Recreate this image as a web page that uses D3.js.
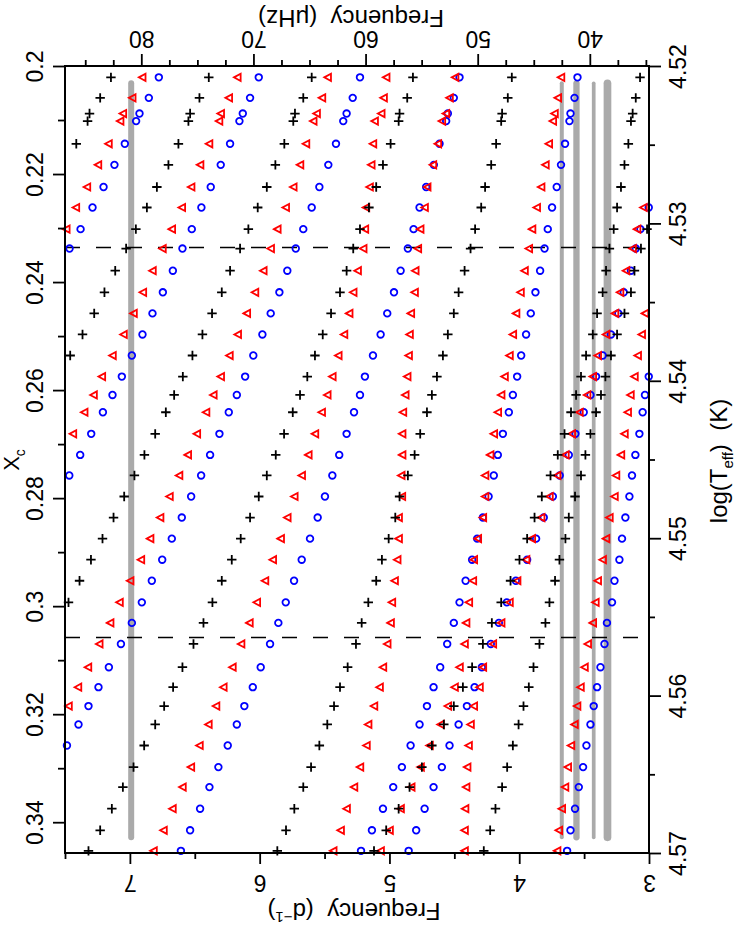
<!DOCTYPE html>
<html>
<head>
<meta charset="utf-8">
<script src="https://cdn.jsdelivr.net/npm/d3@7"></script>
<style>
  body { margin: 0; background: #fff; }
  svg { display: block; font-family: "Liberation Sans", Arial, sans-serif; }
</style>
</head>
<body>
<svg id="chart" width="736" height="931"></svg>
<script>
// central hydrogen fraction of each model (one row of symbols per model)
const xcRows = [
  0.2021, 0.2059, 0.2088, 0.2102, 0.2144, 0.2183, 0.2224, 0.2262, 0.2302, 0.2338,
  0.2379, 0.2419, 0.2458, 0.2497, 0.2536, 0.2575, 0.2609, 0.2641, 0.2681, 0.2720,
  0.2758, 0.2797, 0.2836, 0.2875, 0.2914, 0.2953, 0.2993, 0.3031, 0.3070, 0.3113,
  0.3150, 0.3185, 0.3219, 0.3258, 0.3298, 0.3335, 0.3375, 0.3415, 0.3453
]

// model frequencies (d^-1), one list per row
const plusFreq = [
  [7.146, 6.392, 5.599, 4.819, 4.057, 3.069],
  [7.229, 6.464, 5.664, 4.863, 4.088, 3.102],
  [7.311, 6.536, 5.728, 4.922, 4.132, 3.126],
  [7.326, 6.549, 5.741, 4.929, 4.139, 3.139],
  [7.413, 6.626, 5.810, 4.991, 4.178, 3.159],
  [6.703, 5.879, 5.050, 4.216, 3.189],
  [6.792, 5.945, 5.102, 4.263, 3.216],
  [6.869, 6.015, 5.158, 4.293, 3.246],
  [6.954, 6.087, 5.227, 4.340, 3.272, 3.015],
  [7.029, 6.151, 5.279, 4.375, 3.305, 3.062],
  [7.113, 6.228, 5.330, 4.421, 3.331, 3.112],
  [7.196, 6.292, 5.381, 4.467, 3.357, 3.139],
  [7.275, 6.367, 5.450, 4.504, 3.400, 3.189],
  [7.365, 6.441, 5.514, 4.550, 3.433, 3.246],
  [7.460, 6.518, 5.574, 4.588, 3.485, 3.293],
  [6.592, 5.633, 4.634, 3.524, 3.336],
  [6.659, 5.689, 4.673, 3.562, 3.370],
  [6.723, 5.745, 4.711, 3.601, 3.408],
  [6.805, 5.812, 4.763, 3.651, 3.451],
  [6.888, 5.876, 4.806, 3.703, 3.490],
  [6.965, 5.945, 4.858, 3.759, 3.524],
  [7.044, 6.007, 4.922, 3.826, 3.570],
  [7.126, 6.074, 4.955, 3.882, 3.618],
  [7.211, 6.146, 5.006, 3.939, 3.644],
  [7.300, 6.215, 5.058, 3.998, 3.690],
  [7.388, 6.292, 5.102, 4.067, 3.724],
  [7.473, 6.364, 5.163, 4.139, 3.767],
  [6.433, 5.214, 4.211, 3.798],
  [6.510, 5.258, 4.280, 3.844],
  [6.595, 5.322, 4.363, 3.890],
  [6.667, 5.381, 4.434, 3.926],
  [6.736, 5.427, 4.504, 3.967],
  [6.805, 5.479, 4.581, 4.005],
  [6.890, 5.540, 4.673, 4.049],
  [6.972, 5.604, 4.750, 4.093],
  [7.054, 5.664, 4.845, 4.132],
  [7.139, 5.733, 4.929, 4.183],
  [7.229, 5.797, 5.025, 4.224],
  [7.319, 5.864, 5.119, 4.273]
]

const triFreq = [
  [6.905, 6.172, 5.476, 5.025, 4.494, 3.678],
  [6.982, 6.238, 5.520, 5.045, 4.537, 3.703],
  [7.054, 6.300, 5.561, 5.063, 4.565, 3.728],
  [7.075, 6.313, 5.587, 5.114, 4.596, 3.741],
  [7.165, 6.390, 5.643, 5.127, 4.627, 3.772],
  [7.246, 6.459, 5.689, 5.140, 4.665, 3.798],
  [7.331, 6.528, 5.741, 5.153, 4.709, 3.831],
  [7.416, 6.600, 5.799, 5.181, 4.729, 3.865, 3.043],
  [7.490, 6.677, 5.864, 5.189, 4.763, 3.901, 3.092],
  [6.749, 5.915, 5.202, 4.781, 3.926, 3.126],
  [6.826, 5.972, 5.245, 4.801, 3.959, 3.177],
  [6.900, 6.036, 5.279, 4.806, 3.990, 3.223],
  [6.972, 6.099, 5.310, 4.835, 4.024, 3.262, 3.031],
  [7.049, 6.169, 5.350, 4.845, 4.049, 3.331, 3.056],
  [7.134, 6.233, 5.394, 4.852, 4.075, 3.395, 3.087],
  [7.216, 6.300, 5.440, 4.863, 4.113, 3.433, 3.112],
  [7.280, 6.357, 5.479, 4.878, 4.139, 3.477, 3.143],
  [7.352, 6.413, 5.522, 4.896, 4.165, 3.536, 3.164],
  [7.439, 6.484, 5.574, 4.902, 4.196, 3.595, 3.189],
  [6.554, 5.625, 4.902, 4.224, 3.644, 3.216],
  [6.621, 5.676, 4.909, 4.263, 3.708, 3.254],
  [6.695, 5.733, 4.904, 4.263, 3.767, 3.266],
  [6.767, 5.787, 4.929, 4.280, 3.831, 3.305],
  [6.844, 5.838, 4.929, 4.319, 3.903, 3.331],
  [6.915, 5.899, 4.940, 4.350, 3.947, 3.357],
  [6.998, 5.959, 4.960, 4.357, 4.016, 3.395],
  [7.080, 6.022, 4.981, 4.388, 4.075, 3.413],
  [7.152, 6.079, 4.991, 4.409, 4.139, 3.433],
  [7.236, 6.143, 5.017, 4.421, 4.203, 3.472],
  [7.323, 6.210, 5.050, 4.460, 4.280, 3.497],
  [7.400, 6.280, 5.076, 4.498, 4.306, 3.528],
  [7.473, 6.336, 5.119, 4.550, 4.350, 3.554],
  [6.395, 5.164, 4.606, 4.375, 3.574],
  [6.464, 5.177, 4.691, 4.390, 3.601],
  [6.530, 5.227, 4.760, 4.401, 3.626],
  [6.595, 5.273, 4.832, 4.409, 3.647],
  [6.672, 5.330, 4.914, 4.417, 3.672],
  [6.741, 5.376, 4.999, 4.421, 3.695],
  [6.818, 5.433, 5.068, 4.421, 3.708]
]

const circFreq = [
  [6.777, 6.007, 5.227, 4.460, 3.551],
  [6.854, 6.074, 5.283, 4.504, 3.574],
  [6.926, 6.130, 5.330, 4.550, 3.605],
  [6.952, 6.156, 5.356, 4.563, 3.613],
  [7.039, 6.228, 5.412, 4.614, 3.647],
  [7.119, 6.300, 5.471, 4.658, 3.678],
  [7.203, 6.377, 5.540, 4.717, 3.711],
  [7.288, 6.449, 5.599, 4.768, 3.747, 3.002],
  [7.380, 6.523, 5.664, 4.814, 3.780, 3.066],
  [7.465, 6.595, 5.722, 4.858, 3.805, 3.102],
  [6.669, 5.787, 4.914, 3.839, 3.139],
  [6.746, 5.848, 4.965, 3.875, 3.195],
  [6.826, 5.915, 5.017, 3.911, 3.236],
  [6.903, 5.979, 5.068, 3.947, 3.293],
  [6.985, 6.049, 5.127, 3.985, 3.357],
  [7.062, 6.112, 5.189, 4.016, 3.408, 3.002],
  [7.134, 6.176, 5.227, 4.049, 3.451, 3.031],
  [7.208, 6.238, 5.273, 4.080, 3.503, 3.049],
  [7.298, 6.310, 5.330, 4.126, 3.567, 3.074],
  [7.383, 6.382, 5.387, 4.165, 3.618, 3.105],
  [7.467, 6.451, 5.440, 4.196, 3.688, 3.131],
  [6.528, 5.497, 4.236, 3.741, 3.151],
  [6.600, 5.553, 4.280, 3.811, 3.182],
  [6.677, 5.612, 4.324, 3.870, 3.208],
  [6.751, 5.676, 4.363, 3.939, 3.228],
  [6.831, 5.735, 4.413, 4.026, 3.266],
  [6.908, 5.799, 4.460, 4.096, 3.285],
  [6.985, 5.856, 4.504, 4.157, 3.324],
  [7.069, 5.920, 4.555, 4.219, 3.343],
  [7.162, 5.992, 4.609, 4.288, 3.374],
  [7.242, 6.053, 4.660, 4.344, 3.400],
  [7.319, 6.118, 4.711, 4.403, 3.426],
  [7.396, 6.176, 4.768, 4.467, 3.451],
  [7.485, 6.246, 4.837, 4.537, 3.482],
  [6.318, 4.904, 4.596, 3.508],
  [6.387, 4.971, 4.660, 3.541],
  [6.459, 5.050, 4.729, 3.570],
  [6.536, 5.135, 4.794, 3.605],
  [6.607, 5.219, 4.852, 3.631]
]

// observed frequencies (grey bands) and their relative amplitudes
const obsFreq = [6.99, 3.672, 3.559, 3.426, 3.32]
const obsAmp = [0.78, 0.52, 0.82, 0.48, 1.0]
const obsXcSpan = [0.2032, 0.3428]

// dashed model markers
const xcMarks = [0.2336, 0.3058]

const xcTicks = [0.2, 0.22, 0.24, 0.26, 0.28, 0.3, 0.32, 0.34]
const xcMinor = [0.21, 0.23, 0.25, 0.27, 0.29, 0.31, 0.33]
const freqTicks = [3, 4, 5, 6, 7]
const freqMinor = [3.5, 4.5, 5.5, 6.5, 7.5]
const muHzTicks = [40, 50, 60, 70, 80]
const muHzMinor = [35, 37.5, 42.5, 45, 47.5, 52.5, 55, 57.5, 62.5, 65, 67.5, 72.5, 75, 77.5, 82.5, 85]
const teffTicks = [4.52, 4.53, 4.54, 4.55, 4.56, 4.57]
const teffMinor = [4.525, 4.535, 4.545, 4.555, 4.565]

const uHzPerDay = 1e6 / 86400
const box = { left: 65, right: 649, top: 66, bottom: 853 }

const svg = d3.select('#chart')

const x = d3.scaleLinear().domain([7.5, 3]).range([box.left, box.right])
const xMu = d3.scaleLinear().domain([7.5 * uHzPerDay, 3 * uHzPerDay]).range([box.left, box.right])
const y = d3.scaleLinear().domain([0.2, 0.3457]).range([box.top, box.bottom])
const yTeff = d3.scaleLinear().domain([4.52, 4.57]).range([box.top, box.bottom])
const ampWidth = d3.scaleLinear().domain([0, 1]).range([0, 7.7])

// grey observed-frequency bands
svg.append('g')
  .selectAll('line')
  .data(obsFreq.map((f, i) => ({ f, amp: obsAmp[i] })))
  .join('line')
  .attr('x1', d => x(d.f)).attr('x2', d => x(d.f))
  .attr('y1', y(obsXcSpan[0])).attr('y2', y(obsXcSpan[1]))
  .attr('stroke', '#aaaaaa')
  .attr('stroke-width', d => ampWidth(d.amp))
  .attr('stroke-linecap', 'round')

svg.append('g')
  .selectAll('line')
  .data(xcMarks)
  .join('line')
  .attr('x1', box.left).attr('x2', box.right)
  .attr('y1', d => y(d)).attr('y2', d => y(d))
  .attr('stroke', '#000')
  .attr('stroke-width', 1.7)
  .attr('stroke-dasharray', '15 16')

const toPoints = rows => rows.flatMap((fs, i) => fs.map(f => ({ xc: xcRows[i], f })))

const marks = [
  { rows: circFreq, color: '#0000ff', shape: 'circle' },
  { rows: triFreq, color: '#ff0000', shape: 'tri' },
  { rows: plusFreq, color: '#000000', shape: 'plus' },
]

const shapePath = {
  circle: 'M3.3,0A3.3,3.3 0 1,1 -3.3,0A3.3,3.3 0 1,1 3.3,0Z',
  tri: 'M-3.4,0L3.3,-3.6L3.3,3.6Z',
  plus: 'M-4.7,0H4.7M0,-4.7V4.7',
}

marks.forEach(m => {
  svg.append('g')
    .selectAll('path')
    .data(toPoints(m.rows))
    .join('path')
    .attr('transform', d => `translate(${x(d.f)},${y(d.xc)})`)
    .attr('d', shapePath[m.shape])
    .attr('fill', 'none')
    .attr('stroke', m.color)
    .attr('stroke-width', 1.8)
})

// axes
const styleAxis = g => {
  g.select('.domain').remove()
  g.selectAll('line').attr('stroke', '#000').attr('stroke-width', 1.8)
  g.selectAll('text')
    .attr('fill', '#000')
    .attr('font-size', 23)
    .attr('font-family', '"Liberation Sans", Arial, sans-serif')
    .attr('x', null).attr('y', null).attr('dy', null)
    .attr('text-anchor', 'middle')
}

const fmt = d3.format('.2~f')

svg.append('g').attr('transform', `translate(${box.left},0)`)
  .call(d3.axisLeft(y).tickValues(xcMinor).tickSize(7).tickFormat(''))
  .call(styleAxis)
svg.append('g').attr('transform', `translate(${box.left},0)`)
  .call(d3.axisLeft(y).tickValues(xcTicks).tickSize(12).tickFormat(fmt))
  .call(styleAxis)
  .call(g => g.selectAll('text').attr('transform', 'translate(-22,0) rotate(-90)'))

svg.append('g').attr('transform', `translate(0,${box.bottom})`)
  .call(d3.axisBottom(x).tickValues(freqMinor).tickSize(6).tickFormat(''))
  .call(styleAxis)
svg.append('g').attr('transform', `translate(0,${box.bottom})`)
  .call(d3.axisBottom(x).tickValues(freqTicks).tickSize(11).tickFormat(d3.format('d')))
  .call(styleAxis)
  .call(g => g.selectAll('text').attr('transform', 'translate(0,22) rotate(180)'))

svg.append('g').attr('transform', `translate(0,${box.top})`)
  .call(d3.axisTop(xMu).tickValues(muHzMinor).tickSize(6).tickFormat(''))
  .call(styleAxis)
svg.append('g').attr('transform', `translate(0,${box.top})`)
  .call(d3.axisTop(xMu).tickValues(muHzTicks).tickSize(12).tickFormat(d3.format('d')))
  .call(styleAxis)
  .call(g => g.selectAll('text').attr('transform', 'translate(0,-35) rotate(180)'))

svg.append('g').attr('transform', `translate(${box.right},0)`)
  .call(d3.axisRight(yTeff).tickValues(teffMinor).tickSize(6).tickFormat(''))
  .call(styleAxis)
svg.append('g').attr('transform', `translate(${box.right},0)`)
  .call(d3.axisRight(yTeff).tickValues(teffTicks).tickSize(12).tickFormat(fmt))
  .call(styleAxis)
  .call(g => g.selectAll('text').attr('transform', 'translate(37,0) rotate(-90)'))

svg.append('rect')
  .attr('x', box.left).attr('y', box.top)
  .attr('width', box.right - box.left).attr('height', box.bottom - box.top)
  .attr('fill', 'none').attr('stroke', '#000').attr('stroke-width', 2)

// axis titles
const title = (tx, ty, rot, size = 24) => svg.append('text')
  .attr('transform', `translate(${tx},${ty}) rotate(${rot})`)
  .attr('text-anchor', 'middle')
  .attr('font-size', size)
  .attr('fill', '#000')

const xcTitle = title(19, 460, -90, 22)
xcTitle.append('tspan').text('X')
xcTitle.append('tspan').attr('font-size', 14).attr('dy', 6).text('c')

const teffTitle = title(727, 461, -90)
teffTitle.append('tspan').text('log(T')
teffTitle.append('tspan').attr('font-size', 15).attr('dy', 6).text('eff')
teffTitle.append('tspan').attr('dy', -6).text(')\u00a0\u00a0(K)')

const dayTitle = title(354, 903, 180)
dayTitle.append('tspan').text('Frequency\u00a0\u00a0(d')
dayTitle.append('tspan').attr('font-size', 15).attr('dy', -9).text('\u22121')
dayTitle.append('tspan').attr('dy', 9).text(')')

title(351, 9.5, 180).text('Frequency\u00a0\u00a0(\u03bcHz)')
</script>
